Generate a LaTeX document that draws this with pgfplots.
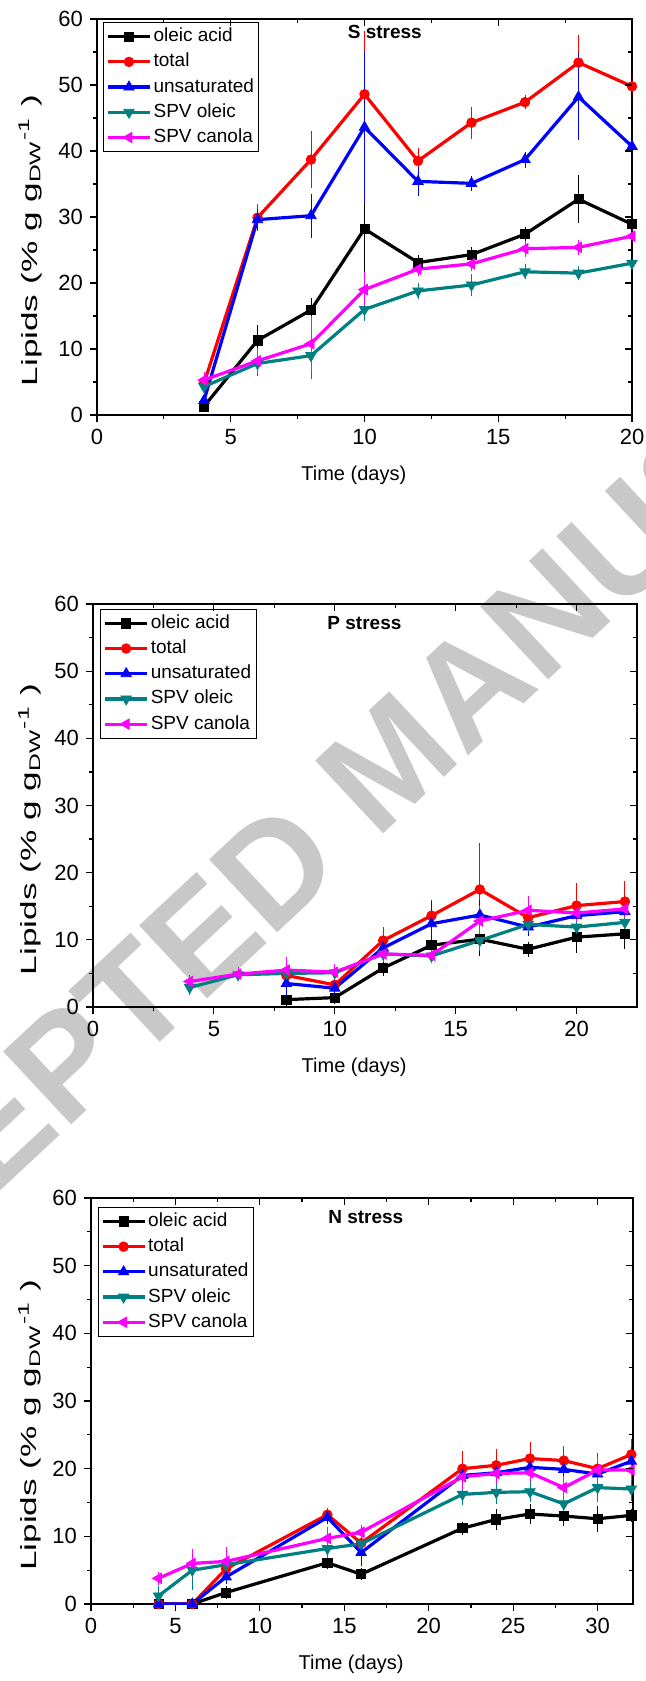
\documentclass[border=0pt]{standalone}
\usepackage{fontspec}
\setmainfont{Liberation Sans}
\usepackage{graphicx}
\usepackage{pgfplots}
\pgfplotsset{compat=1.18}

\definecolor{cred}{RGB}{255,0,0}
\definecolor{cblue}{RGB}{0,0,255}
\definecolor{spvoleic}{RGB}{0,128,128}
\definecolor{spvcanola}{RGB}{255,0,255}
\definecolor{wm}{RGB}{200,200,200}

\pgfplotsset{
  lipbase/.style={
    scale only axis, anchor=south west,
    xmin=0, ymin=0, ymax=60,
    ytick={0,10,...,60},
    minor x tick num=1, minor y tick num=1,
    axis line style={line width=0.8pt},
    every tick/.style={black, line width=0.6pt},
    major tick length=3.5pt, minor tick length=2pt,
    ticklabel style={font=\fontsize{11}{13}\selectfont},
    /pgf/number format/assume math mode=true,
  },
  lipmain/.style={
    lipbase, tick align=outside, xtick pos=left, ytick pos=left,
    xlabel={Time (days)},
    xlabel style={at={(axis description cs:0.48,0)}, anchor=center, yshift=-30pt,
      font=\fontsize{10}{12}\selectfont},
    ylabel={\scalebox{1.6}[1]{Lipids (\% g g\textsubscript{DW}\textsuperscript{-1} )}},
    ylabel style={anchor=center, font=\fontsize{11}{13}\selectfont},
    legend cell align=left,
    legend style={anchor=north west, draw=black, line width=0.5pt,
      font=\fontsize{9.5}{11}\selectfont, inner xsep=1.5pt, inner ysep=1.5pt,
      row sep=1.6pt, nodes={inner sep=1pt, text height=7pt, text depth=2pt}},
    legend image code/.code={\draw[mark repeat=2, mark phase=2]
      plot coordinates {(0pt,0pt) (10.5pt,0pt) (21pt,0pt)};},
    legend entries={oleic acid, total, unsaturated, SPV oleic, SPV canola},
  },
  lipmirror/.style={
    lipbase, tick align=inside, xtick pos=right, ytick pos=right,
    xticklabels={}, yticklabels={}, axis line style={draw=none},
  },
  errs/.style={error bars/.cd, y dir=both, y explicit,
    error bar style={line width=0.5pt, solid},
    error mark options={line width=0.5pt, mark size=2pt}},
  soleic/.style={black, line width=1.6pt, mark=square*, mark size=2.3pt,
    mark options={line width=0.4pt}, errs},
  stotal/.style={cred, line width=1.6pt, mark=*, mark size=2.4pt,
    mark options={line width=0.4pt}, errs},
  sunsat/.style={cblue, line width=1.6pt, mark=triangle*, mark size=3pt,
    mark options={line width=0.4pt}, errs},
  sspvo/.style={spvoleic, line width=1.6pt, mark=triangle*, mark size=3pt,
    mark options={rotate=180, line width=0.4pt}, errs},
  sspvc/.style={spvcanola, line width=1.6pt, mark=triangle*, mark size=3pt,
    mark options={rotate=90, line width=0.4pt}, errs},
  p1/.style={at={(48.5pt,-207.5pt)}, width=267.5pt, height=198pt,
    xmax=20, xtick={0,5,...,20}},
  p2/.style={at={(46.5pt,-503.5pt)}, width=272pt, height=201.5pt,
    xmax=22.5, xtick={0,5,...,20}},
  p3/.style={at={(45.5pt,-802pt)}, width=271pt, height=203pt,
    xmax=32.1, xtick={0,5,...,30}},
}

\begin{document}
\begin{tikzpicture}
\useasboundingbox (0pt,0pt) rectangle (323pt,-840.5pt);
\node[rotate=43, text=wm, font=\bfseries\fontsize{72.5}{72.5}\selectfont, inner sep=0pt]
  at (195pt,-380pt) {ACCEPTED MANUSCRIPT};

% S stress
\begin{axis}[lipmain, p1,
  ylabel style={at={(axis description cs:-0.125,0.44)}},
  legend style={at={(rel axis cs:0.011,0.992)}}]
\addplot[soleic] coordinates {
  (4,1.3) +- (0,0.3) (6,11.3) +- (0,1.8) (8,15.9) +- (0,1.2) (10,28.2) +- (0,7.0)
  (12,23.1) +- (0,0.5) (14,24.3) +- (0,0.5) (16,27.4) +- (0,0.5) (18,32.7) +- (0,3.0)
  (20,28.9) +- (0,1.0)};
\addplot[stotal] coordinates {
  (4,4.8) +- (0,0.5) (6,29.9) +- (0,1.4) (8,38.7) +- (0,3.7) (10,48.6) +- (0,9.0)
  (12,38.5) +- (0,1.3) (14,44.3) +- (0,1.8) (16,47.4) +- (0,0.5) (18,53.4) +- (0,3.6)
  (20,49.8) +- (0,1.3)};
\addplot[sunsat] coordinates {
  (4,2.2) +- (0,0.8) (6,29.6) +- (0,1.0) (8,30.2) +- (0,2.7) (10,43.6) +- (0,11.0)
  (12,35.4) +- (0,1.6) (14,35.1) +- (0,0.5) (16,38.7) +- (0,0.6) (18,48.2) +- (0,6.0)
  (20,40.7) +- (0,1.0)};
\addplot[sspvo] coordinates {
  (4,4.3) +- (0,0.7) (6,7.8) +- (0,1.3) (8,9.0) +- (0,3.0) (10,16.0) +- (0,1.2)
  (12,18.8) +- (0,0.6) (14,19.7) +- (0,1.0) (16,21.7) +- (0,0.5) (18,21.5) +- (0,0.5)
  (20,23.0) +- (0,0.8)};
\addplot[sspvc] coordinates {
  (4,5.3) +- (0,0.6) (6,8.2) +- (0,1.3) (8,10.8) +- (0,3.6) (10,19.0) +- (0,2.0)
  (12,22.1) +- (0,0.5) (14,22.9) +- (0,0.5) (16,25.2) +- (0,0.6) (18,25.4) +- (0,0.5)
  (20,27.1) +- (0,0.6)};
\node[font=\bfseries\fontsize{9.5}{11}\selectfont] at (rel axis cs:0.538,0.967) {S stress};
\end{axis}
\begin{axis}[lipmirror, p1]
\end{axis}

% P stress
\begin{axis}[lipmain, p2,
  ylabel style={at={(axis description cs:-0.116,0.44)}},
  legend style={at={(rel axis cs:0.013,0.988)}}]
\addplot[soleic] coordinates {
  (8,1.1) +- (0,0.3) (10,1.4) +- (0,0.3) (12,5.8) +- (0,0.6) (14,9.2) +- (0,1.5)
  (16,10.1) +- (0,1.9) (18,8.6) +- (0,0.5) (20,10.4) +- (0,1.7) (22,10.9) +- (0,1.6)};
\addplot[stotal] coordinates {
  (8,4.7) +- (0,0.8) (10,3.3) +- (0,0.6) (12,9.9) +- (0,1.4) (14,13.6) +- (0,1.7)
  (16,17.5) +- (0,6.3) (18,13.3) +- (0,1.7) (20,15.1) +- (0,2.7) (22,15.7) +- (0,2.4)};
\addplot[sunsat] coordinates {
  (8,3.5) +- (0,1.2) (10,2.8) +- (0,0.6) (12,8.8) +- (0,0.8) (14,12.4) +- (0,2.8)
  (16,13.7) +- (0,1.6) (18,11.9) +- (0,0.8) (20,13.6) +- (0,1.0) (22,14.2) +- (0,1.0)};
\addplot[sspvo] coordinates {
  (4,2.9) +- (0,0.5) (6,4.8) +- (0,0.4) (8,5.0) +- (0,0.4) (10,5.1) +- (0,0.5)
  (12,7.9) +- (0,0.5) (14,7.6) +- (0,0.5) (16,9.9) +- (0,1.0) (18,12.3) +- (0,0.6)
  (20,11.9) +- (0,0.6) (22,12.6) +- (0,0.6)};
\addplot[sspvc] coordinates {
  (4,3.8) +- (0,0.4) (6,4.9) +- (0,0.4) (8,5.5) +- (0,1.3) (10,5.2) +- (0,0.6)
  (12,7.9) +- (0,0.6) (14,7.7) +- (0,0.5) (16,12.8) +- (0,1.7) (18,14.4) +- (0,1.6)
  (20,14.0) +- (0,0.7) (22,14.6) +- (0,0.7)};
\node[font=\bfseries\fontsize{9.5}{11}\selectfont] at (rel axis cs:0.499,0.953) {P stress};
\end{axis}
\begin{axis}[lipmirror, p2]
\end{axis}

% N stress
\begin{axis}[lipmain, p3,
  ylabel style={at={(axis description cs:-0.113,0.44)}},
  legend style={at={(rel axis cs:0.012,0.978)}}]
\addplot[soleic] coordinates {
  (4,0) (6,0) (8,1.7) +- (0,0.3) (14,6.1) +- (0,0.4) (16,4.4) +- (0,0.3)
  (22,11.2) +- (0,0.4) (24,12.5) +- (0,0.9) (26,13.3) +- (0,0.9) (28,13.0) +- (0,0.9)
  (30,12.6) +- (0,1.3) (32,13.1) +- (0,0.4)};
\addplot[stotal] coordinates {
  (4,0) (6,0) (8,5.2) +- (0,0.5) (14,13.2) +- (0,0.4) (16,9.0) +- (0,0.5)
  (22,20.0) +- (0,2.0) (24,20.5) +- (0,1.8) (26,21.5) +- (0,1.8) (28,21.2) +- (0,1.5)
  (30,20.0) +- (0,1.7) (32,22.1) +- (0,1.7)};
\addplot[sunsat] coordinates {
  (4,0) (6,0) (8,4.0) +- (0,0.4) (14,12.8) +- (0,0.4) (16,7.6) +- (0,1.4)
  (22,19.0) +- (0,1.3) (24,19.4) +- (0,1.0) (26,20.2) +- (0,1.2) (28,19.9) +- (0,1.3)
  (30,19.2) +- (0,1.5) (32,21.1) +- (0,1.5)};
\addplot[sspvo] coordinates {
  (4,1.2) +- (0,0.8) (6,5.0) +- (0,2.4) (8,5.8) +- (0,1.8) (14,8.2) +- (0,0.8)
  (16,8.9) +- (0,0.8) (22,16.2) +- (0,1.0) (24,16.5) +- (0,1.1) (26,16.6) +- (0,1.0)
  (28,14.8) +- (0,1.2) (30,17.2) +- (0,1.5) (32,17.0) +- (0,1.2)};
\addplot[sspvc] coordinates {
  (4,3.8) +- (0,0.4) (6,6.0) +- (0,1.6) (8,6.3) +- (0,1.6) (14,9.7) +- (0,1.1)
  (16,10.6) +- (0,0.5) (22,18.8) +- (0,1.4) (24,19.3) +- (0,1.0) (26,19.4) +- (0,0.6)
  (28,17.2) +- (0,1.2) (30,19.8) +- (0,1.2) (32,19.8) +- (0,1.0)};
\node[font=\bfseries\fontsize{9.5}{11}\selectfont] at (rel axis cs:0.507,0.953) {N stress};
\end{axis}
\begin{axis}[lipmirror, p3]
\end{axis}
\end{tikzpicture}
\end{document}
